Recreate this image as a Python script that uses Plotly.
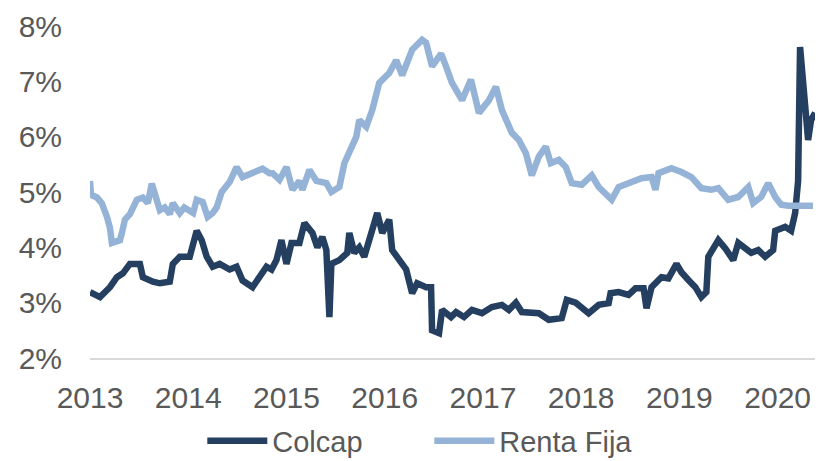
import plotly.graph_objects as go

# Decimal-year positions and values (%)
colcap_t = [2013.000, 2013.102, 2013.203, 2013.274, 2013.335, 2013.406, 2013.508, 2013.538,
            2013.640, 2013.711, 2013.812, 2013.843, 2013.914, 2014.015, 2014.086, 2014.137,
            2014.188, 2014.249, 2014.320, 2014.421, 2014.492, 2014.553, 2014.655, 2014.726,
            2014.797, 2014.848, 2014.898, 2014.949, 2015.000, 2015.051, 2015.132, 2015.183,
            2015.264, 2015.315, 2015.365, 2015.406, 2015.437, 2015.457, 2015.538, 2015.619,
            2015.640, 2015.690, 2015.741, 2015.792, 2015.843, 2015.893, 2015.924, 2015.975,
            2016.046, 2016.076, 2016.147, 2016.218, 2016.279, 2016.330, 2016.421, 2016.472,
            2016.482, 2016.553, 2016.584, 2016.675, 2016.726, 2016.807, 2016.888, 2016.990,
            2017.091, 2017.193, 2017.264, 2017.335, 2017.396, 2017.538, 2017.569, 2017.670,
            2017.802, 2017.853, 2017.944, 2018.076, 2018.178, 2018.279, 2018.299, 2018.381,
            2018.482, 2018.553, 2018.635, 2018.665, 2018.716, 2018.817, 2018.888, 2018.970,
            2019.020, 2019.091, 2019.162, 2019.223, 2019.274, 2019.294, 2019.396, 2019.467,
            2019.548, 2019.599, 2019.670, 2019.731, 2019.802, 2019.873, 2019.954, 2019.975,
            2020.076, 2020.137, 2020.178, 2020.208, 2020.228, 2020.259, 2020.279, 2020.310,
            2020.340, 2020.381]
colcap_v = [3.19, 3.10, 3.28, 3.46, 3.53, 3.70, 3.70, 3.46,
            3.38, 3.35, 3.38, 3.70, 3.83, 3.83, 4.30, 4.13,
            3.83, 3.65, 3.70, 3.60, 3.65, 3.40, 3.28, 3.46,
            3.65, 3.60, 3.77, 4.13, 3.70, 4.08, 4.08, 4.44,
            4.26, 4.00, 4.19, 3.95, 2.74, 3.70, 3.77, 3.90,
            4.26, 3.90, 4.00, 3.83, 4.13, 4.37, 4.62, 4.26,
            4.50, 3.95, 3.77, 3.60, 3.17, 3.35, 3.28, 3.28,
            2.50, 2.45, 2.87, 2.74, 2.83, 2.74, 2.87, 2.81,
            2.92, 2.96, 2.87, 3.00, 2.83, 2.81, 2.81, 2.69,
            2.72, 3.05, 3.00, 2.81, 2.96, 2.99, 3.17, 3.19,
            3.14, 3.26, 3.26, 2.90, 3.28, 3.46, 3.44, 3.70,
            3.55, 3.41, 3.28, 3.10, 3.19, 3.83, 4.13, 3.98,
            3.77, 4.08, 4.00, 3.90, 3.95, 3.83, 3.95, 4.30,
            4.37, 4.30, 4.62, 5.20, 7.62, 6.97, 6.84, 5.94,
            6.30, 6.43]

renta_t = [2013.000, 2013.010, 2013.071, 2013.120, 2013.173, 2013.203, 2013.223, 2013.260,
           2013.305, 2013.330, 2013.355, 2013.406, 2013.477, 2013.538, 2013.589, 2013.629,
           2013.680, 2013.711, 2013.760, 2013.812, 2013.843, 2013.914, 2013.960, 2014.015,
           2014.050, 2014.086, 2014.147, 2014.198, 2014.249, 2014.289, 2014.340, 2014.421,
           2014.492, 2014.553, 2014.655, 2014.756, 2014.827, 2014.858, 2014.929, 2015.000,
           2015.061, 2015.132, 2015.162, 2015.234, 2015.305, 2015.406, 2015.457, 2015.538,
           2015.589, 2015.660, 2015.711, 2015.741, 2015.812, 2015.873, 2015.944, 2016.046,
           2016.117, 2016.178, 2016.279, 2016.381, 2016.421, 2016.482, 2016.574, 2016.624,
           2016.685, 2016.787, 2016.878, 2016.959, 2017.061, 2017.132, 2017.193, 2017.294,
           2017.365, 2017.437, 2017.497, 2017.569, 2017.640, 2017.690, 2017.772, 2017.843,
           2017.904, 2018.005, 2018.107, 2018.178, 2018.279, 2018.310, 2018.381, 2018.482,
           2018.614, 2018.716, 2018.756, 2018.787, 2018.919, 2019.020, 2019.122, 2019.223,
           2019.325, 2019.396, 2019.497, 2019.599, 2019.701, 2019.751, 2019.832, 2019.904,
           2019.975, 2020.036, 2020.107, 2020.360]
renta_v = [5.20, 4.95, 4.90, 4.80, 4.55, 4.35, 4.08, 4.10,
           4.13, 4.30, 4.50, 4.60, 4.86, 4.90, 4.80, 5.15,
           4.86, 4.67, 4.72, 4.60, 4.80, 4.62, 4.72, 4.67,
           4.62, 4.86, 4.82, 4.55, 4.62, 4.72, 5.00, 5.18,
           5.45, 5.27, 5.34, 5.42, 5.34, 5.34, 5.22, 5.45,
           5.04, 5.20, 5.04, 5.40, 5.20, 5.16, 5.00, 5.09,
           5.52, 5.80, 6.00, 6.30, 6.18, 6.48, 6.97, 7.15,
           7.38, 7.11, 7.57, 7.75, 7.70, 7.27, 7.50, 7.27,
           6.97, 6.66, 7.03, 6.43, 6.66, 6.90, 6.48, 6.07,
           5.94, 5.70, 5.30, 5.64, 5.82, 5.52, 5.58, 5.45,
           5.16, 5.13, 5.30, 5.09, 4.91, 4.86, 5.09, 5.16,
           5.25, 5.27, 5.04, 5.34, 5.43, 5.36, 5.27, 5.07,
           5.04, 5.07, 4.86, 4.91, 5.09, 4.80, 4.91, 5.16,
           4.91, 4.77, 4.75, 4.75]

year_ticks = [2013, 2014, 2015, 2016, 2017, 2018, 2019, 2020]
year_labels = ["2013", "2014", "2015", "2016", "2017", "2018", "2019", "2020"]
y_ticks = [2, 3, 4, 5, 6, 7, 8]
y_labels = ["2%", "3%", "4%", "5%", "6%", "7%", "8%"]

FONT = "Liberation Sans, Arial, sans-serif"
GREY = "#595959"

fig = go.Figure()
fig.add_trace(go.Scatter(x=colcap_t, y=colcap_v, mode="lines", name="Colcap",
                         line=dict(color="#243F60", width=6.5)))
fig.add_trace(go.Scatter(x=renta_t, y=renta_v, mode="lines", name="Renta Fija",
                         line=dict(color="#95B3D7", width=6.5)))

fig.update_layout(
    width=819, height=461,
    margin=dict(l=90, r=4, t=26, b=103, autoexpand=False),
    paper_bgcolor="white", plot_bgcolor="white",
    font=dict(family=FONT, size=30, color=GREY),
    showlegend=True,
    legend=dict(orientation="h", x=0.468, xanchor="center", y=-0.25, yanchor="middle",
                font=dict(family=FONT, size=29, color=GREY),
                itemwidth=60, entrywidth=152, bgcolor="rgba(0,0,0,0)"),
)
fig.update_xaxes(range=[2013, 2020.38], tickvals=year_ticks, ticktext=year_labels,
                 showgrid=False, zeroline=False, showline=True, linecolor="#D9D9D9",
                 linewidth=1.5, ticks="", ticklabelstandoff=12, automargin=False,
                 tickfont=dict(family=FONT, size=30, color=GREY))
fig.update_yaxes(range=[2, 8], tickvals=y_ticks, ticktext=y_labels,
                 showgrid=False, zeroline=False, showline=False, ticks="",
                 ticklabelstandoff=27, automargin=False,
                 tickfont=dict(family=FONT, size=30, color=GREY))

fig.write_html("out.html", config={"displayModeBar": False},
               post_script="document.body.style.margin='0';document.body.style.overflow='hidden';")
